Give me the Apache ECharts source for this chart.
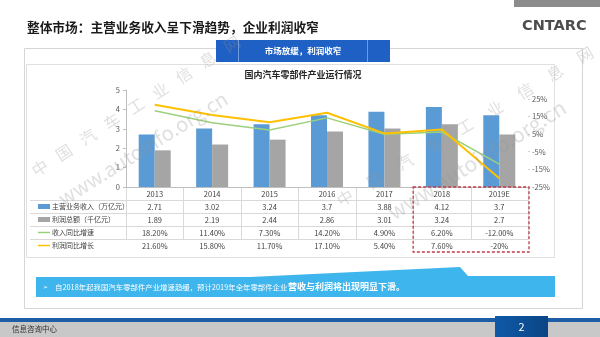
<!DOCTYPE html>
<html><head><meta charset="utf-8">
<script src="https://cdn.jsdelivr.net/npm/echarts@6/dist/echarts.min.js"></script>
<style>html,body{margin:0;padding:0;background:#fff}#c{width:600px;height:337px}</style>
</head><body><div id="c"></div>
<script>
const years = ['2013','2014','2015','2016','2017','2018','2019E'];
const revenue = [2.71,3.02,3.24,3.7,3.88,4.12,3.7];
const profit = [1.89,2.19,2.44,2.86,3.01,3.24,2.7];
const revenueGrowth = [18.2,11.4,7.3,14.2,4.9,6.2,-12.0];
const profitGrowth = [21.6,15.8,11.7,17.1,5.4,7.6,-20];
const revenueLabels = ['2.71','3.02','3.24','3.7','3.88','4.12','3.7'];
const profitLabels = ['1.89','2.19','2.44','2.86','3.01','3.24','2.7'];
const revenueGrowthLabels = ['18.20%','11.40%','7.30%','14.20%','4.90%','6.20%','-12.00%'];
const profitGrowthLabels = ['21.60%','15.80%','11.70%','17.10%','5.40%','7.60%','-20%'];
const seriesNames = ['主营业务收入（万亿元）','利润总额（千亿元）','收入同比增速','利润同比增长'];
const seriesColors = ['#5b9bd5','#a5a5a5','#9bd17c','#ffc000'];
const pageTitle = '整体市场：主营业务收入呈下滑趋势，企业利润收窄';
const tabText = '市场放缓，利润收窄';
const chartTitle = '国内汽车零部件产业运行情况';
const noteText = '自2018年起我国汽车零部件产业增速趋缓，预计2019年全年零部件企业';
const noteBold = '营收与利润将出现明显下滑。';
const footerText = '信息咨询中心';
const pageNo = '2';
const wmCN = '中国汽车工业信息网';
const wmEN = 'www.autoinfo.org.cn';

const FONT = '"Noto Sans CJK SC","Noto Sans",sans-serif';
const GL = 126, GR = 528, GT = 90, GB = 187, ROW = 13;
const BW = (GR - GL) / years.length;
const rows = [revenueLabels, profitLabels, revenueGrowthLabels, profitGrowthLabels];

const chart = echarts.init(document.getElementById('c'), null, {renderer: 'canvas'});

const labelStyle = {fontSize: 7.5, color: '#404040', fontFamily: FONT, margin: 3, interval: 0};
const xAxes = [{
  type: 'category', data: years, gridIndex: 0,
  axisLine: {lineStyle: {color: '#bfbfbf'}}, axisTick: {show: false},
  axisLabel: labelStyle
}].concat(rows.map((r, i) => ({
  type: 'category', data: r, gridIndex: 0, position: 'bottom', offset: ROW * (i + 1),
  axisLine: {show: false}, axisTick: {show: false}, axisLabel: labelStyle
})));

const g = [];
g.push({type: 'rect', shape: {x: 514, y: 0, width: 86, height: 7}, style: {fill: '#8c8c8c'}, z: -5});
g.push({type: 'text', x: 522, y: 26, style: {text: 'CNTARC', fill: '#4d4d4d', font: 'bold 14.5px "DejaVu Sans"', textVerticalAlign: 'middle'}, z: -5});
g.push({type: 'text', x: 27, y: 27, style: {text: pageTitle, fill: '#1a1a1a', font: 'bold 12.7px ' + FONT, textVerticalAlign: 'middle'}, z: -5});
g.push({type: 'rect', shape: {x: 24.5, y: 48.5, width: 558, height: 260}, style: {fill: 'none', stroke: '#d6d6d6', lineWidth: 1}, z: -6});
g.push({type: 'rect', shape: {x: 26.5, y: 64.5, width: 528, height: 193}, style: {fill: 'none', stroke: '#e0e0e0', lineWidth: 1}, z: -6});
g.push({type: 'rect', shape: {x: 216, y: 40, width: 174, height: 22}, style: {fill: '#1f60c4'}, z: -4});
g.push({type: 'line', shape: {x1: 238.5, y1: 40, x2: 238.5, y2: 62}, style: {stroke: '#6d9ce0', lineWidth: 1}, z: -3});
g.push({type: 'line', shape: {x1: 367.5, y1: 40, x2: 367.5, y2: 62}, style: {stroke: '#6d9ce0', lineWidth: 1}, z: -3});
g.push({type: 'text', x: 303, y: 51, style: {text: tabText, fill: '#fff', font: 'bold 8.5px ' + FONT, textAlign: 'center', textVerticalAlign: 'middle'}, z: -3});
g.push({type: 'text', x: 303, y: 75, style: {text: chartTitle, fill: '#262626', font: 'bold 9px ' + FONT, textAlign: 'center', textVerticalAlign: 'middle'}, z: -3});
for (let k = 1; k <= rows.length; k++) {
  const y = GB + ROW * k + 0.5;
  g.push({type: 'line', shape: {x1: 30, y1: y, x2: GR, y2: y}, style: {stroke: '#d9d9d9', lineWidth: 1}, z: -2});
}
for (let k = 0; k <= years.length; k++) {
  const x = Math.round(GL + BW * k) + 0.5;
  g.push({type: 'line', shape: {x1: x, y1: GB, x2: x, y2: GB + ROW * rows.length}, style: {stroke: '#d9d9d9', lineWidth: 1}, z: -2});
}
seriesNames.forEach((n, i) => {
  const yc = GB + ROW * (i + 1) + ROW / 2;
  if (i < 2) {
    g.push({type: 'rect', shape: {x: 38, y: yc - 2.5, width: 12, height: 5}, style: {fill: seriesColors[i]}, z: -1});
  } else {
    g.push({type: 'line', shape: {x1: 38, y1: yc, x2: 50, y2: yc}, style: {stroke: seriesColors[i], lineWidth: 1.5}, z: -1});
  }
  g.push({type: 'text', x: 52, y: yc, style: {text: n, fill: '#404040', font: '7px ' + FONT, textVerticalAlign: 'middle'}, z: -1});
});
const dx = GL + BW * 5;
g.push({type: 'rect', shape: {x: dx, y: GB, width: GR - dx + 1, height: ROW * 5}, style: {fill: 'none', stroke: '#c0394b', lineWidth: 1.3, lineDash: [3, 2]}, z: 5});
g.push({type: 'polygon', shape: {points: [[36, 277], [250, 277], [460, 267], [468, 276], [555, 276], [555, 297], [36, 297]]}, style: {fill: '#3eb5ec'}, z: -4});
g.push({type: 'text', x: 43, y: 287, style: {text: '➢', fill: '#fff', font: '6px ' + FONT, textVerticalAlign: 'middle'}, z: -3});
g.push({type: 'text', x: 55, y: 287.5, style: {text: noteText, fill: '#fff', font: '7.4px ' + FONT, textVerticalAlign: 'middle'}, z: -3});
g.push({type: 'text', x: 288, y: 287, style: {text: noteBold, fill: '#fff', font: 'bold 9px ' + FONT, textVerticalAlign: 'middle'}, z: -3});
g.push({type: 'rect', shape: {x: 0, y: 318, width: 600, height: 4}, style: {fill: '#1f5ca6'}, z: -4});
g.push({type: 'rect', shape: {x: 0, y: 322, width: 600, height: 15}, style: {fill: '#c8c8c8'}, z: -4});
g.push({type: 'text', x: 12, y: 329.5, style: {text: footerText, fill: '#333', font: '7.5px ' + FONT, textVerticalAlign: 'middle'}, z: -3});
g.push({type: 'rect', shape: {x: 495, y: 316, width: 53, height: 21}, style: {fill: new echarts.graphic.LinearGradient(0, 0, 1, 0, [{offset: 0, color: '#0f5aa8'}, {offset: 1, color: '#0b4585'}])}, z: -3});
g.push({type: 'text', x: 521.5, y: 327, style: {text: pageNo, fill: '#fff', font: '11px ' + FONT, textAlign: 'center', textVerticalAlign: 'middle'}, z: -2});
function wmLine(text, x0, y0, x1, y1, size) {
  const n = text.length;
  const ang = Math.atan2(y0 - y1, x1 - x0);
  for (let i = 0; i < n; i++) {
    const t = n === 1 ? 0 : i / (n - 1);
    g.push({type: 'text', x: x0 + (x1 - x0) * t, y: y0 + (y1 - y0) * t, rotation: ang,
      style: {text: text[i], fill: 'rgba(150,150,150,0.3)', font: size + 'px ' + FONT, textAlign: 'center', textVerticalAlign: 'middle'}, z: 50, silent: true});
  }
}
function wmText(text, x, y, ang, size) {
  g.push({type: 'text', x: x, y: y, rotation: ang * Math.PI / 180,
    style: {text: text, fill: 'rgba(150,150,150,0.3)', font: size + 'px ' + FONT, textVerticalAlign: 'middle'}, z: 50, silent: true});
}
wmLine(wmCN, 40, 168, 232, 44, 16);
wmText(wmEN, 60, 200, 32, 20);
wmLine(wmCN, 345, 198, 585, 55, 16);
wmText(wmEN, 390, 214, 32, 21);

chart.setOption({
  animation: false,
  textStyle: {fontFamily: FONT},
  grid: {left: GL, right: 600 - GR, top: GT, bottom: 337 - GB, containLabel: false},
  xAxis: xAxes,
  yAxis: [
    {type: 'value', min: 0, max: 5, interval: 1, position: 'left',
     axisLine: {show: true, lineStyle: {color: '#bfbfbf'}}, axisTick: {show: true, length: 3, lineStyle: {color: '#bfbfbf'}},
     axisLabel: {fontSize: 7.5, color: '#595959', margin: 6}, splitLine: {show: false}},
    {type: 'value', min: -25, max: 30, interval: 10, position: 'right',
     axisLine: {show: false}, axisTick: {show: true, length: 2, lineStyle: {color: '#d0d0d0'}},
     axisLabel: {fontSize: 7.5, color: '#595959', margin: 4, formatter: '{value}%', showMaxLabel: false}, splitLine: {show: false}}
  ],
  series: [
    {name: seriesNames[0], type: 'bar', data: revenue, barWidth: 16, barGap: '0%', itemStyle: {color: seriesColors[0]}, xAxisIndex: 0, yAxisIndex: 0},
    {name: seriesNames[1], type: 'bar', data: profit, barWidth: 16, barGap: '0%', itemStyle: {color: seriesColors[1]}, xAxisIndex: 0, yAxisIndex: 0},
    {name: seriesNames[2], type: 'line', data: revenueGrowth, symbol: 'none', lineStyle: {color: seriesColors[2], width: 1.5}, itemStyle: {color: seriesColors[2]}, xAxisIndex: 0, yAxisIndex: 1, z: 3},
    {name: seriesNames[3], type: 'line', data: profitGrowth, symbol: 'none', lineStyle: {color: seriesColors[3], width: 2}, itemStyle: {color: seriesColors[3]}, xAxisIndex: 0, yAxisIndex: 1, z: 4}
  ],
  graphic: {elements: g}
});
</script></body></html>
